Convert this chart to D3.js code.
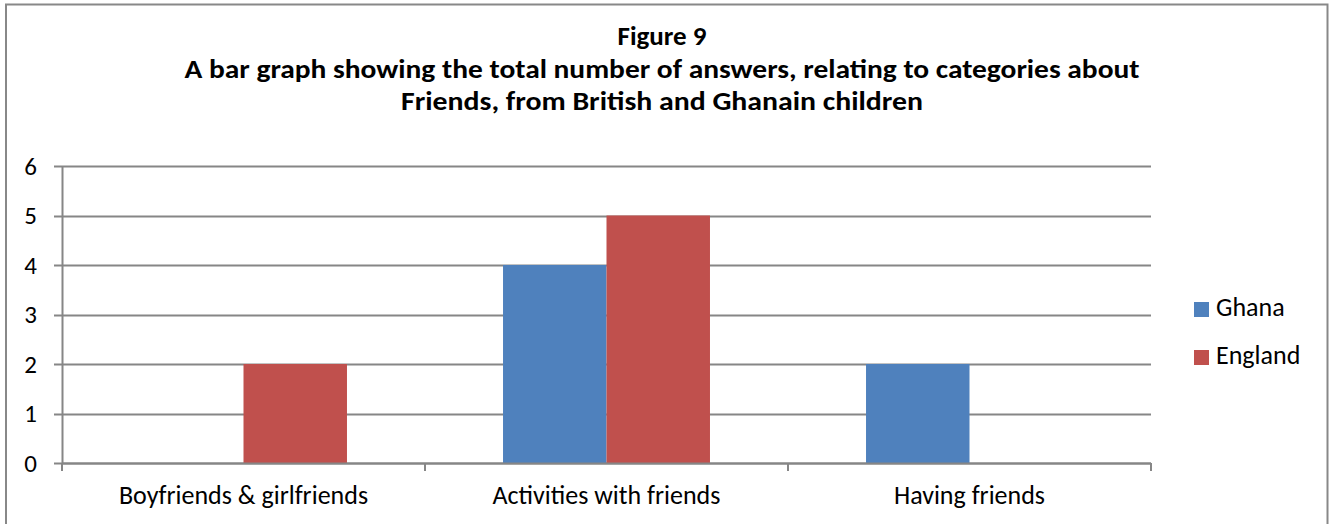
<!DOCTYPE html>
<html>
<head>
<meta charset="utf-8">
<script src="https://cdn.jsdelivr.net/npm/d3@7"></script>
<style>
  html, body { margin: 0; padding: 0; background: #fff; }
  svg { display: block; }
  text { font-family: Carlito, Calibri, "Open Sans", "Liberation Sans", sans-serif; fill: #000; }
</style>
</head>
<body>
<svg id="chart" width="1334" height="524"></svg>
<script>
// Answer counts about friends, by category and country
const categories = ["Boyfriends & girlfriends", "Activities with friends", "Having friends"];
const seriesNames = ["Ghana", "England"];
const ghana = [0, 4, 2];
const england = [2, 5, 0];
const yTicks = [0, 1, 2, 3, 4, 5, 6];
const titleLines = [
  "Figure 9",
  "A bar graph showing the total number of answers, relating to categories about",
  "Friends, from British and Ghanain children"
];
const colors = ["#4F81BD", "#C0504D"];

const svg = d3.select("#chart");

// outer chart frame
svg.append("rect")
  .attr("x", 6).attr("y", 4.5)
  .attr("width", 1321.5).attr("height", 530)
  .attr("fill", "none").attr("stroke", "#888").attr("stroke-width", 2);

// title
const titleY = [45, 78, 110];
const titleW = [null, 955, 522];
titleLines.forEach((t, i) => {
  const el = svg.append("text")
    .attr("x", 662).attr("y", titleY[i])
    .attr("text-anchor", "middle")
    .attr("font-size", 27).attr("font-weight", "bold")
    .text(t);
  if (titleW[i]) el.attr("textLength", titleW[i]).attr("lengthAdjust", "spacingAndGlyphs");
});

const plot = { left: 62, right: 1151, top: 166, bottom: 463 };

// each category band holds two bars, with ~78px of space either side
const x0 = d3.scaleBand().domain(categories).range([plot.left, plot.right]);
const x1 = d3.scaleBand().domain(seriesNames).range([0, x0.bandwidth()]).paddingOuter(0.754);
const y = d3.scaleLinear().domain([0, 6]).range([plot.bottom, plot.top]);

// horizontal gridlines with left tick stubs
svg.append("g").selectAll("line").data(yTicks).join("line")
  .attr("x1", plot.left - 8).attr("x2", plot.right)
  .attr("y1", d => Math.round(y(d)) + 0.5).attr("y2", d => Math.round(y(d)) + 0.5)
  .attr("stroke", "#868686").attr("stroke-width", 2);

// y tick labels
svg.append("g").selectAll("text").data(yTicks).join("text")
  .attr("x", 37).attr("y", d => y(d) + 8.5)
  .attr("text-anchor", "end")
  .attr("font-size", 25)
  .text(d => d);

// bars
const data = categories.map((c, i) => ({ cat: c, values: [ghana[i], england[i]] }));
const groups = svg.append("g").selectAll("g").data(data).join("g")
  .attr("transform", d => `translate(${x0(d.cat)},0)`);
groups.selectAll("rect").data(d => d.values.map((v, j) => ({ name: seriesNames[j], v, j })))
  .join("rect")
  .attr("x", d => x1(d.name))
  .attr("width", x1.bandwidth())
  .attr("y", d => y(d.v))
  .attr("height", d => y(0) - y(d.v))
  .attr("fill", d => colors[d.j]);

// y axis line
svg.append("line")
  .attr("x1", plot.left + 0.5).attr("x2", plot.left + 0.5)
  .attr("y1", plot.top).attr("y2", plot.bottom)
  .attr("stroke", "#868686").attr("stroke-width", 2);

// x axis line and category boundary ticks
svg.append("line")
  .attr("x1", plot.left).attr("x2", plot.right)
  .attr("y1", plot.bottom + 0.5).attr("y2", plot.bottom + 0.5)
  .attr("stroke", "#868686").attr("stroke-width", 2);
const bounds = categories.map(c => x0(c)).concat([plot.right]);
svg.append("g").selectAll("line").data(bounds).join("line")
  .attr("x1", d => d).attr("x2", d => d)
  .attr("y1", plot.bottom).attr("y2", plot.bottom + 8)
  .attr("stroke", "#868686").attr("stroke-width", 2);

// category labels
svg.append("g").selectAll("text").data(categories).join("text")
  .attr("x", d => x0(d) + x0.bandwidth() / 2)
  .attr("y", 504)
  .attr("text-anchor", "middle")
  .attr("font-size", 26)
  .text(d => d);

// legend
const legend = svg.append("g").selectAll("g").data(seriesNames).join("g")
  .attr("transform", (d, i) => `translate(1194,${302 + i * 48})`);
legend.append("rect").attr("width", 15).attr("height", 15).attr("fill", (d, i) => colors[i]);
legend.append("text").attr("x", 22).attr("y", 14).attr("font-size", 26).text(d => d);
</script>
</body>
</html>
